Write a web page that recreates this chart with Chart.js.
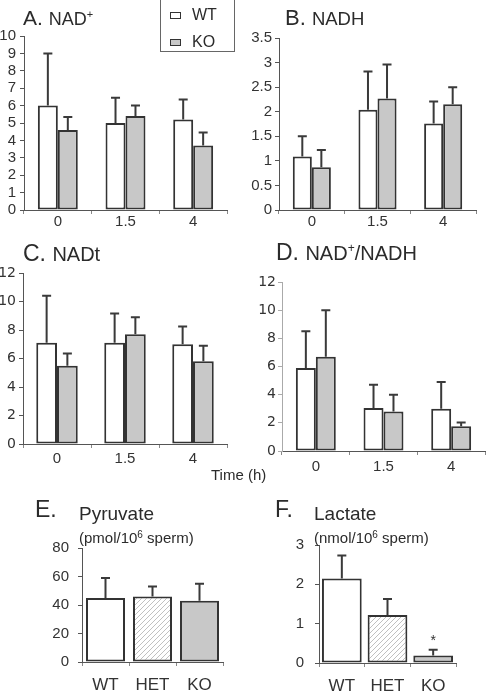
<!DOCTYPE html>
<html>
<head>
<meta charset="utf-8">
<script src="https://cdn.jsdelivr.net/npm/chart.js@4"></script>
<style>
  body { margin: 0; background: #fff; }
  #wrap { position: relative; width: 486px; height: 693px; overflow: hidden; font-family: 'Liberation Sans', Arial, sans-serif; color: #2b2b2b; }
  canvas { position: absolute; }
  .t { position: absolute; white-space: nowrap; line-height: 1; }
  .legend { position: absolute; left: 160px; top: -1px; width: 75px; height: 53px; border: 1px solid #666; box-sizing: border-box; }
  .sw { position: absolute; left: 9px; width: 11px; height: 7px; border: 1.5px solid #333; box-sizing: border-box; }
</style>
</head>
<body>
<div id="wrap">
  <canvas id="cA" width="243" height="240" style="left:0;top:0"></canvas>
  <canvas id="cB" width="243" height="240" style="left:243px;top:0"></canvas>
  <canvas id="cC" width="243" height="240" style="left:0;top:230px"></canvas>
  <canvas id="cD" width="243" height="250" style="left:243px;top:230px"></canvas>
  <canvas id="cE" width="243" height="233" style="left:0;top:460px"></canvas>
  <canvas id="cF" width="243" height="233" style="left:243px;top:460px"></canvas>

  <div class="t" style="left:23px;top:7px;font-size:21px">A. <span style="font-size:18px">NAD<sup style="font-size:11px;vertical-align:7px">+</sup></span></div>
  <div class="t" style="left:285px;top:7px;font-size:22px">B. <span style="font-size:18.5px">NADH</span></div>
  <div class="t" style="left:23px;top:242px;font-size:23px">C. <span style="font-size:20px">NADt</span></div>
  <div class="t" style="left:276px;top:241px;font-size:23px">D. <span style="font-size:20px">NAD<sup style="font-size:12px;vertical-align:8px">+</sup>/NADH</span></div>
  <div class="t" style="left:211px;top:467px;font-size:15px">Time (h)</div>
  <div class="t" style="left:35px;top:498px;font-size:23px">E.</div>
  <div class="t" style="left:79px;top:504px;font-size:19px">Pyruvate</div>
  <div class="t" style="left:79px;top:530px;font-size:15px">(pmol/10<sup style="font-size:10px;vertical-align:5px">6</sup> sperm)</div>
  <div class="t" style="left:275px;top:498px;font-size:23px">F.</div>
  <div class="t" style="left:314px;top:504px;font-size:19px">Lactate</div>
  <div class="t" style="left:314px;top:530px;font-size:15px">(nmol/10<sup style="font-size:10px;vertical-align:5px">6</sup> sperm)</div>

  <div class="legend">
    <div class="sw" style="top:12px;background:#fff"></div>
    <div class="t" style="left:31px;top:7px;font-size:16px">WT</div>
    <div class="sw" style="top:39px;background:#c8c8c8"></div>
    <div class="t" style="left:31px;top:34px;font-size:16px">KO</div>
  </div>
</div>
<script>
// time points (h)
const timeLabels = ['0', '1.5', '4'];
const genotypeLabels = ['WT', 'HET', 'KO'];

// A. NAD+
const nadWT = [6.0, 5.0, 5.2];
const nadWTsd = [3.0, 1.45, 1.15];
const nadKO = [4.6, 5.4, 3.7];
const nadKOsd = [0.75, 0.6, 0.75];

// B. NADH
const nadhWT = [1.09, 2.04, 1.76];
const nadhWTsd = [0.41, 0.78, 0.45];
const nadhKO = [0.87, 2.27, 2.15];
const nadhKOsd = [0.35, 0.69, 0.35];

// C. NADt
const nadtWT = [7.1, 7.1, 7.0];
const nadtWTsd = [3.3, 2.05, 1.25];
const nadtKO = [5.5, 7.7, 5.8];
const nadtKOsd = [0.85, 1.2, 1.1];

// D. NAD+/NADH
const ratioWT = [5.9, 3.05, 3.0];
const ratioWTsd = [2.6, 1.65, 1.9];
const ratioKO = [6.7, 2.8, 1.75];
const ratioKOsd = [3.3, 1.2, 0.28];

// E. Pyruvate, F. Lactate
const pyruvate = [45, 46, 43];
const pyruvateSd = [14, 7, 12];
const lactate = [2.15, 1.22, 0.19];
const lactateSd = [0.58, 0.41, 0.15];

const ink = '#333';
const koGray = '#c8c8c8';

// upward error bars, plus optional asterisk
const errorBars = {
    id: 'errorBars',
    afterDatasetsDraw(chart, args, opts) {
        const ctx = chart.ctx;
        const y = chart.scales.y;
        chart.data.datasets.forEach((ds, i) => {
            const meta = chart.getDatasetMeta(i);
            meta.data.forEach((bar, j) => {
                const top = y.getPixelForValue(ds.data[j] + ds.sd[j]);
                ctx.save();
                ctx.strokeStyle = '#3a3a3a';
                ctx.lineWidth = 2;
                ctx.beginPath();
                ctx.moveTo(bar.x, bar.y);
                ctx.lineTo(bar.x, top);
                ctx.moveTo(bar.x - 4.5, top);
                ctx.lineTo(bar.x + 4.5, top);
                ctx.stroke();
                if (opts.star === j) {
                    ctx.fillStyle = ink;
                    ctx.font = '14px "Liberation Sans", Arial';
                    ctx.textAlign = 'center';
                    ctx.fillText('*', bar.x, top - 5);
                }
                ctx.restore();
            });
        });
    }
};

function hatch(ctx) {
    const c = document.createElement('canvas');
    c.width = 5; c.height = 5;
    const g = c.getContext('2d');
    g.fillStyle = '#fff';
    g.fillRect(0, 0, 5, 5);
    g.strokeStyle = '#b0b0b0';
    g.lineWidth = 0.8;
    g.beginPath();
    g.moveTo(0, 5); g.lineTo(5, 0);
    g.moveTo(-1, 1); g.lineTo(1, -1);
    g.moveTo(4, 6); g.lineTo(6, 4);
    g.stroke();
    return ctx.createPattern(c, 'repeat');
}

function panel(id, cfg) {
    const ctx = document.getElementById(id).getContext('2d');
    return new Chart(ctx, {
        type: 'bar',
        data: { labels: cfg.labels, datasets: cfg.datasets },
        options: {
            responsive: false,
            animation: false,
            layout: { padding: cfg.padding },
            datasets: {
                bar: {
                    categoryPercentage: cfg.cat,
                    barPercentage: 1,
                    borderColor: ink,
                    borderWidth: 2,
                    borderSkipped: false
                }
            },
            scales: {
                x: {
                    afterFit: s => { s.height = cfg.xh; },
                    border: { color: '#555', width: 1 },
                    grid: { drawOnChartArea: false, color: '#888', tickLength: 4 },
                    ticks: { color: ink, padding: cfg.xpad, font: { family: 'Liberation Sans', size: cfg.xfont } }
                },
                y: {
                    min: 0,
                    max: cfg.max,
                    afterFit: s => { s.width = cfg.yw; },
                    border: { color: cfg.axisColor || '#555', width: 1 },
                    grid: { drawOnChartArea: false, color: cfg.axisColor || '#555', tickLength: 4 },
                    ticks: {
                        stepSize: cfg.step,
                        autoSkip: false,
                        color: ink,
                        padding: cfg.ypad,
                        callback: v => String(+v.toFixed(2)),
                        font: { family: cfg.yfamily || 'Liberation Sans', size: cfg.yfont }
                    }
                }
            },
            plugins: {
                legend: { display: false },
                tooltip: { enabled: false },
                errorBars: { star: cfg.star }
            }
        },
        plugins: [errorBars]
    });
}

function pair(wt, wtSd, ko, koSd) {
    return [
        { label: 'WT', data: wt, sd: wtSd, backgroundColor: '#fff' },
        { label: 'KO', data: ko, sd: koSd, backgroundColor: koGray }
    ];
}

panel('cA', {
    labels: timeLabels, datasets: pair(nadWT, nadWTsd, nadKO, nadKOsd),
    max: 10, step: 1, cat: 0.59, yw: 24, ypad: 4, xh: 30, xpad: -1, xfont: 15, yfont: 15,
    padding: { left: 0, right: 16, top: 36, bottom: 0 }
});

panel('cB', {
    labels: timeLabels, datasets: pair(nadhWT, nadhWTsd, nadhKO, nadhKOsd),
    max: 3.5, step: 0.5, cat: 0.58, yw: 36, ypad: 3, xh: 30, xpad: -1, xfont: 15, yfont: 15,
    padding: { left: 0, right: 10, top: 38, bottom: 0 }
});

panel('cC', {
    labels: timeLabels, datasets: pair(nadtWT, nadtWTsd, nadtKO, nadtKOsd),
    max: 12, step: 2, cat: 0.61, yw: 23, ypad: 3, xh: 26, xpad: 2, xfont: 15, yfont: 14, yfamily: 'DejaVu Sans',
    padding: { left: 0, right: 16, top: 43, bottom: 0 }
});

panel('cD', {
    labels: timeLabels, datasets: pair(ratioWT, ratioWTsd, ratioKO, ratioKOsd),
    max: 12, step: 2, cat: 0.59, yw: 39, ypad: 2, xh: 29, xpad: 3, xfont: 15, yfont: 14, yfamily: 'DejaVu Sans',
    axisColor: '#aaa',
    padding: { left: 0, right: 1, top: 52, bottom: 0 }
});

panel('cE', {
    labels: genotypeLabels,
    datasets: [{ data: pyruvate, sd: pyruvateSd, backgroundColor: ['#fff', hatch(document.getElementById('cE').getContext('2d')), koGray] }],
    max: 80, step: 20, cat: 0.83, yw: 34, ypad: 9, xh: 31, xpad: 9, xfont: 17, yfont: 15,
    padding: { left: 48, right: 20, top: 88, bottom: 0 }
});

panel('cF', {
    labels: genotypeLabels,
    datasets: [{ data: lactate, sd: lactateSd, backgroundColor: ['#fff', hatch(document.getElementById('cF').getContext('2d')), koGray] }],
    max: 3, step: 1, cat: 0.87, yw: 30, ypad: 11, xh: 30, xpad: 9, xfont: 17, yfont: 15, star: 2,
    padding: { left: 46, right: 30, top: 85, bottom: 0 }
});
</script>
</body>
</html>
